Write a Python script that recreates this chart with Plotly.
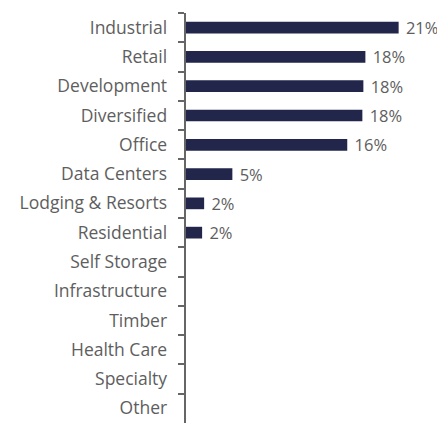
import plotly.graph_objects as go

categories = ["Industrial", "Retail", "Development", "Diversified", "Office",
              "Data Centers", "Lodging & Resorts", "Residential", "Self Storage",
              "Infrastructure", "Timber", "Health Care", "Specialty", "Other"]
values = [21.1, 17.8, 17.6, 17.5, 16.0, 4.6, 1.8, 1.6, 0, 0, 0, 0, 0, 0]
value_labels = ["21%", "18%", "18%", "18%", "16%", "5%", "2%", "2%",
                "", "", "", "", "", ""]

FONT = "Open Sans"
GREY = "#5e5e5e"

fig = go.Figure(go.Bar(
    x=values,
    y=categories,
    orientation="h",
    marker=dict(color="#22264b", line=dict(width=0)),
    text=["\u00a0" + t if t else "" for t in value_labels],
    textposition="outside",
    constraintext="none",
    textfont=dict(family=FONT, size=16.5, color=GREY),
    cliponaxis=False,
    hoverinfo="skip",
))

# page body has an 8px default margin, so the figure is sized to fit the window
fig.update_layout(
    width=437, height=415,
    margin=dict(l=178, r=0, t=5, b=0, autoexpand=False),
    paper_bgcolor="white", plot_bgcolor="white",
    bargap=0.6,
    showlegend=False,
    font=dict(family=FONT, size=17.5, color=GREY),
)
fig.update_xaxes(range=[0, 25.7], visible=False, showgrid=False, zeroline=False,
                 automargin=False)
fig.update_yaxes(
    autorange="reversed",
    automargin=False,
    showline=True, linecolor="#666666", linewidth=1.5,
    ticks="outside", ticklen=6, tickcolor="#666666", tickwidth=1.5,
    tickson="boundaries",
    ticksuffix="\u00a0\u00a0\u00a0",
    showgrid=False, zeroline=False,
    tickfont=dict(family=FONT, size=17.5, color=GREY),
)

fig.write_html("out.html")
